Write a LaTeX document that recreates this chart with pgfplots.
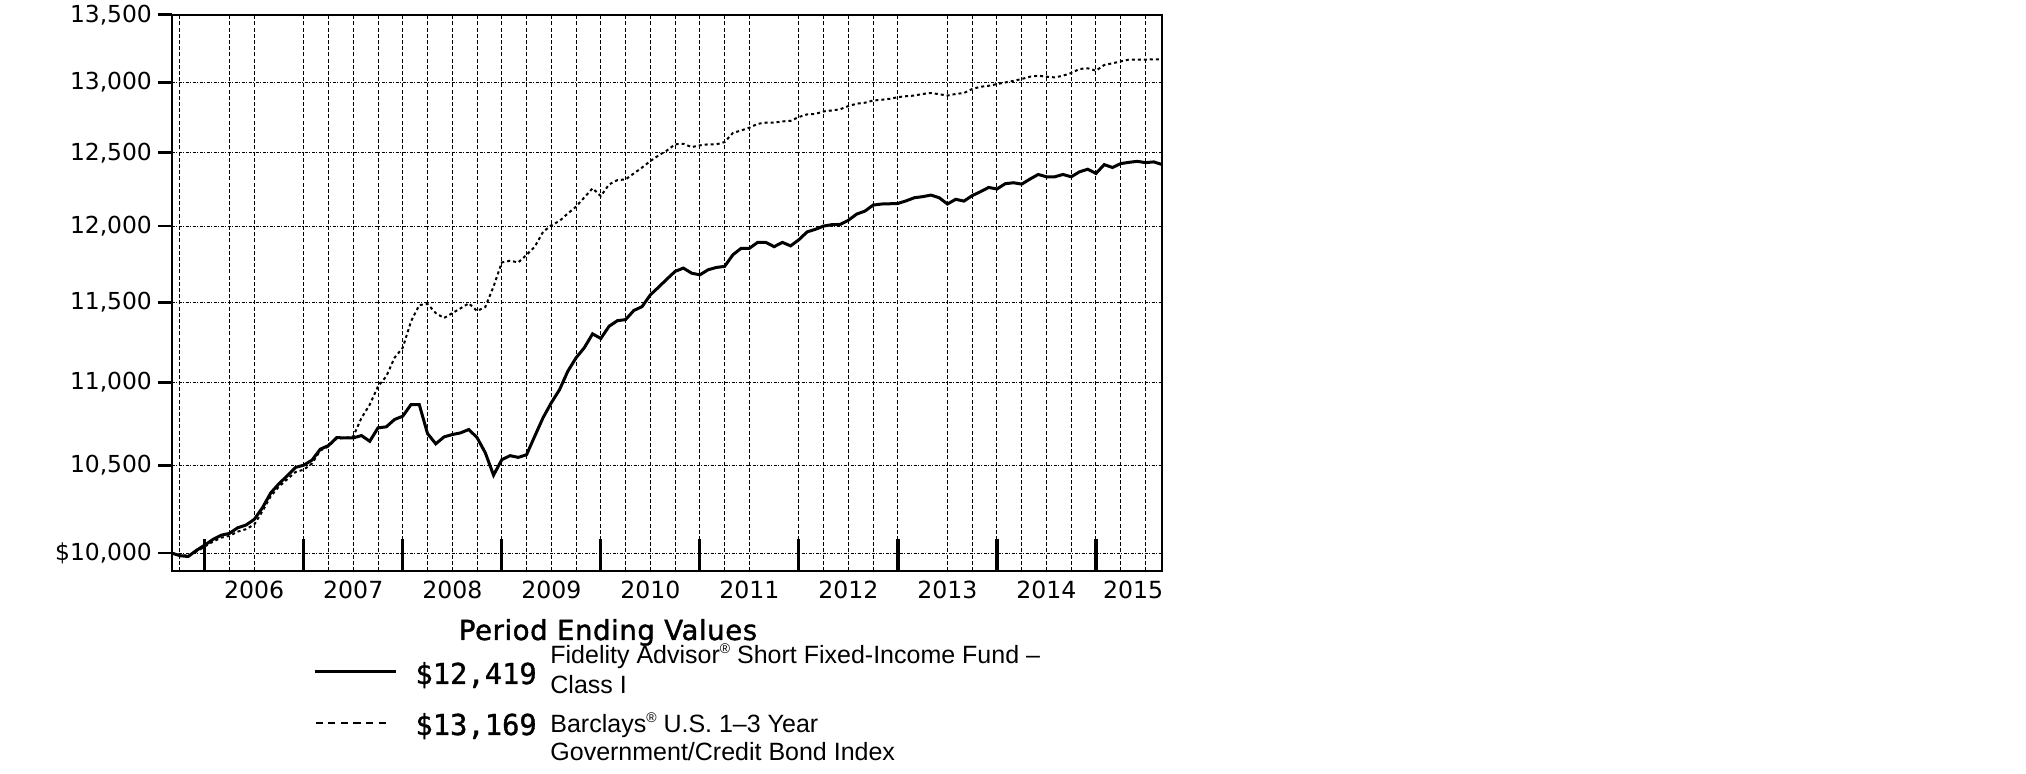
\documentclass[border=0pt]{standalone}
\usepackage{fontspec}
\setmainfont{DejaVu Sans}
\newfontfamily\arial{Liberation Sans}
\newfontfamily\monofont[FakeBold=1.2]{DejaVu Sans Mono}
\newfontfamily\titlefont[FakeBold=1.4, LetterSpace=2]{DejaVu Sans}
\usepackage{pgfplots}
\pgfplotsset{compat=1.18}
\usepackage{pgfplotstable}

% month index: 0 = Aug 2005 ... 120 = Aug 2015
\pgfplotstableread{
m fund index
0 10000 10000
1 9985 9990
2 9981 9985
3 10015 10008
4 10044 10036
5 10076 10064
6 10100 10086
7 10110 10096
8 10142 10120
9 10157 10134
10 10189 10160
11 10256 10236
12 10341 10322
13 10394 10378
14 10440 10420
15 10489 10462
16 10502 10476
17 10532 10512
18 10596 10588
19 10618 10612
20 10665 10660
21 10663 10662
22 10663 10672
23 10677 10783
24 10643 10863
25 10723 10974
26 10729 11035
27 10773 11150
28 10793 11213
29 10863 11379
30 10863 11483
31 10689 11490
32 10628 11431
33 10669 11400
34 10683 11431
35 10693 11462
36 10713 11494
37 10665 11445
38 10575 11470
39 10444 11602
40 10534 11759
41 10558 11770
42 10548 11759
43 10564 11809
44 10674 11863
45 10784 11961
46 10874 12005
47 10954 12034
48 11067 12084
49 11150 12130
50 11213 12193
51 11300 12255
52 11271 12202
53 11348 12282
54 11383 12311
55 11390 12316
56 11448 12357
57 11473 12398
58 11548 12443
59 11598 12482
60 11650 12516
61 11700 12559
62 11722 12563
63 11689 12540
64 11678 12552
65 11711 12559
66 11726 12559
67 11733 12575
68 11809 12639
69 11852 12657
70 11852 12676
71 11891 12704
72 11891 12712
73 11863 12712
74 11891 12721
75 11868 12725
76 11909 12752
77 11961 12771
78 11978 12774
79 12000 12792
80 12009 12799
81 12011 12807
82 12039 12830
83 12080 12847
84 12100 12854
85 12141 12870
86 12148 12875
87 12150 12882
88 12152 12894
89 12170 12901
90 12191 12906
91 12198 12917
92 12209 12924
93 12191 12915
94 12148 12906
95 12180 12917
96 12168 12924
97 12205 12953
98 12232 12969
99 12261 12976
100 12250 12988
101 12286 13000
102 12293 13012
103 12284 13025
104 12318 13042
105 12350 13049
106 12334 13042
107 12334 13037
108 12350 13049
109 12334 13069
110 12368 13098
111 12386 13103
112 12357 13086
113 12418 13127
114 12398 13140
115 12425 13154
116 12434 13167
117 12441 13167
118 12432 13167
119 12437 13169
120 12419 13169
}\growth

\newcommand\reg{\raisebox{0.42em}{\fontsize{7}{7}\selectfont ®}}

\begin{document}
\begin{tikzpicture}
\path[use as bounding box] (0,0) rectangle (1013pt,387pt);
\begin{axis}[
  at={(85.85pt,101.35pt)}, anchor=south west,
  scale only axis, width=495.15pt, height=278.15pt,
  xmin=0, xmax=120,
  ymode=log, ymin=9900, ymax=13500,
  yminorticks=false,
  ytick={10000,10500,11000,11500,12000,12500,13000,13500},
  yticklabels={{\$10,000},{10,500},{11,000},{11,500},{12,000},{12,500},{13,000},{13,500}},
  xtick={1,7,10,16,19,22,25,28,31,34,37,40,43,46,49,52,55,58,61,64,67,70,76,79,82,85,88,94,97,100,103,106,109,112,115,118},
  xticklabels={},
  extra x ticks={10,22,34,46,58,70,82,94,106,116.5},
  extra x tick labels={2006,2007,2008,2009,2010,2011,2012,2013,2014,2015},
  extra x tick style={grid=none, xtick style={draw=none}},
  xmajorgrids=true, ymajorgrids=true,
  xtick style={draw=none},
  ytick style={line width=1.4pt, black},
  tick align=outside,
  major tick length=6.7pt,
  ytick pos=left, xtick pos=bottom,
  axis line style={line width=0.8pt},
  every x tick label/.style={font=\fontsize{11.8}{14}\selectfont, inner sep=0pt, yshift=2pt},
  every y tick label/.style={font=\fontsize{11.7}{14}\selectfont, inner sep=0pt, xshift=-3pt},
  x grid style={line width=0.5pt, black, dash pattern=on 2pt off 1.1pt},
  y grid style={line width=0.5pt, black, dash pattern=on 1.4pt off 0.8pt on 0.5pt off 0.8pt},
]
\addplot[black, line width=1pt, dash pattern=on 1.5pt off 1.5pt] table[x=m, y=index] {\growth};
\addplot[black, line width=1.5pt] table[x=m, y=fund] {\growth};
\pgfplotsinvokeforeach{4,16,28,40,52,64,76,88,100,112}{
  \draw[line width=1.6pt] (axis cs:#1,9900) -- ++(0pt,16pt);
}
\end{axis}
\node[anchor=base, inner sep=0pt, font=\titlefont\fontsize{13.8}{17}\selectfont] at (304pt,67pt) {Period Ending Values};
\draw[line width=1.5pt] (157.3pt,51.1pt) -- (198pt,51.1pt);
\draw[line width=1pt, dash pattern=on 3.6pt off 2.7pt] (157.8pt,25.6pt) -- (195.5pt,25.6pt);
\node[anchor=base west, inner sep=0pt, font=\monofont\fontsize{14.4}{17}\selectfont] at (207.5pt,45pt) {\$12,419};
\node[anchor=base west, inner sep=0pt, font=\monofont\fontsize{14.4}{17}\selectfont] at (207.5pt,19.5pt) {\$13,169};
\node[anchor=base west, inner sep=0pt, font=\arial\fontsize{12.5}{14.3}\selectfont] at (275pt,55pt) {Fidelity Advisor\reg{} Short Fixed-Income Fund –};
\node[anchor=base west, inner sep=0pt, font=\arial\fontsize{12.5}{14.3}\selectfont] at (275pt,40.3pt) {Class I};
\node[anchor=base west, inner sep=0pt, font=\arial\fontsize{12.5}{14.3}\selectfont] at (275pt,20.7pt) {Barclays\reg{} U.S. 1–3 Year};
\node[anchor=base west, inner sep=0pt, font=\arial\fontsize{12.5}{14.3}\selectfont] at (275pt,6.7pt) {Government/Credit Bond Index};
\end{tikzpicture}
\end{document}
